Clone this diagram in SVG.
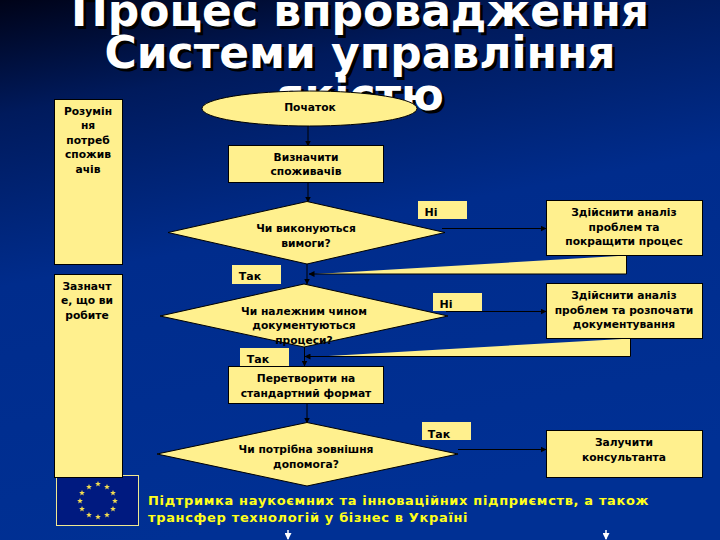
<svg xmlns="http://www.w3.org/2000/svg" width="720" height="540" viewBox="0 0 720 540">
<defs>
<linearGradient id="bg" x1="0" y1="0" x2="0.25" y2="1">
<stop offset="0" stop-color="#000318"/>
<stop offset="0.2" stop-color="#001a5c"/>
<stop offset="0.5" stop-color="#002c8c"/>
<stop offset="1" stop-color="#003094"/>
</linearGradient>
<marker id="a" markerWidth="6" markerHeight="6" refX="5.500" refY="3" orient="auto" markerUnits="userSpaceOnUse"><path d="M0,0 L6,3 L0,6 Z" fill="#000"/></marker>
<marker id="w" markerWidth="7" markerHeight="7" refX="6" refY="3.500" orient="auto" markerUnits="userSpaceOnUse"><path d="M0,0 L7,3.500 L0,7 Z" fill="#fff"/></marker>
<path id="star" d="M0,-3 L0.8,-0.9 L2.9,-0.9 L1.2,0.4 L1.8,2.5 L0,1.2 L-1.8,2.5 L-1.2,0.4 L-2.9,-0.9 L-0.8,-0.9 Z" fill="#f2dc50"/>
</defs>
<style>
text{font-family:"DejaVu Sans",sans-serif;font-weight:bold;text-anchor:middle}
.s{fill:#fff08e;stroke:#000;stroke-width:1}
.l{fill:#fff08e}
.t{font-size:10.7px;fill:#000}
.n{font-size:11px;fill:#000}
.y{font-size:13px;fill:#ffff1a;text-anchor:start;letter-spacing:.65px}
.h{font-size:44px;fill:#fff}
.hs{font-size:44px;fill:#000}
.c{stroke:#000;stroke-width:1;fill:none;marker-end:url(#a)}
.e{stroke:#000;stroke-width:1;fill:none}
</style>
<rect width="720" height="540" fill="url(#bg)"/>
<g id="title">
<text class="hs" x="363" y="29">Процес впровадження</text>
<text class="hs" x="363" y="71">Системи управління</text>
<text class="hs" x="363" y="113">якістю</text>
<text class="h" x="360" y="26">Процес впровадження</text>
<text class="h" x="360" y="68">Системи управління</text>
<text class="h" x="360" y="110">якістю</text>
</g>
<g id="feedback1"><path class="l" d="M316,274 L626.500,255.500 L626.500,274 Z"/><path class="e" d="M626.500,255.500 L626.500,274"/></g>
<g id="feedback2"><path class="l" d="M320,356.500 L630.500,338.500 L630.500,356.500 Z"/><path class="e" d="M630.500,338.500 L630.500,356.500"/></g>
<g id="connectors">
<path class="c" d="M308,126 L308,146"/>
<path class="c" d="M308,183 L308,202"/>
<path class="c" d="M442,228.500 L546,228.500"/>
<path class="c" d="M307,264 L307,284"/>
<path class="c" d="M626.500,274 L309,274"/>
<path class="c" d="M446,311.500 L546,311.500"/>
<path class="c" d="M304.500,347 L304.500,366"/>
<path class="c" d="M630.500,356.500 L305,356.500"/>
<path class="c" d="M307,403 L307,423"/>
<path class="c" d="M458,449.500 L546,449.500"/>
</g>
<g id="eu"><rect x="56.500" y="475.500" width="82" height="50" fill="#001a80" stroke="#f0e890"/>
<use href="#star" x="98" y="484"/><use href="#star" x="107" y="487"/><use href="#star" x="113" y="493"/><use href="#star" x="115" y="501"/><use href="#star" x="113" y="509"/><use href="#star" x="107" y="515"/><use href="#star" x="98" y="517"/><use href="#star" x="89" y="515"/><use href="#star" x="82" y="509"/><use href="#star" x="80" y="501"/><use href="#star" x="82" y="493"/><use href="#star" x="89" y="487"/></g>
<g id="side1"><rect class="s" x="54.500" y="99.500" width="68" height="165"/><text class="t" x="88" y="115">Розумін</text><text class="t" x="88" y="129">ня</text><text class="t" x="88" y="144">потреб</text><text class="t" x="88" y="158">спожив</text><text class="t" x="88" y="173">ачів</text></g>
<g id="side2"><rect class="s" x="54.500" y="274.500" width="68" height="203"/><text class="t" x="87" y="290">Зазначт</text><text class="t" x="87" y="304">е, що ви</text><text class="t" x="87" y="319">робите</text></g>
<g id="start"><ellipse class="s" cx="309.500" cy="108.500" rx="107.500" ry="17.500"/><text class="t" x="310" y="111">Початок</text></g>
<g id="customers"><rect class="s" x="228.500" y="145.500" width="155" height="37"/><text class="t" x="306" y="161">Визначити</text><text class="t" x="306" y="175">споживачів</text></g>
<g id="no1"><rect class="l" x="418" y="201" width="49" height="18"/><text class="n" x="431" y="216">Ні</text></g>
<g id="d1"><path class="s" d="M307,201.500 L445,232.500 L307,264 L168,232.500 Z"/><text class="t" x="306" y="232">Чи виконуються</text><text class="t" x="306" y="247">вимоги?</text></g>
<g id="a1"><rect class="s" x="546.500" y="200.500" width="156" height="55"/><text class="t" x="624" y="216">Здійснити аналіз</text><text class="t" x="624" y="231">проблем та</text><text class="t" x="624" y="245">покращити процес</text></g>
<g id="yes1"><rect class="l" x="232" y="265" width="49" height="19"/><text class="n" x="250" y="280">Так</text></g>
<g id="d2"><path class="s" d="M304,284 L448,316 L304,347 L160,316 Z"/><text class="t" x="304" y="315">Чи належним чином</text><text class="t" x="304" y="329">документуються</text><text class="t" x="304" y="344">процеси?</text></g>
<g id="no2"><rect class="l" x="433" y="293" width="49" height="18"/><text class="n" x="446" y="308">Ні</text></g>
<g id="a2"><rect class="s" x="546.500" y="283.500" width="156" height="55"/><text class="t" x="624" y="299">Здійснити аналіз</text><text class="t" x="624" y="314">проблем та розпочати</text><text class="t" x="624" y="328">документування</text></g>
<g id="yes2"><rect class="l" x="240" y="348" width="49" height="19"/><text class="n" x="258" y="363">Так</text></g>
<g id="standard"><rect class="s" x="228.500" y="366.500" width="155" height="37"/><text class="t" x="306" y="382">Перетворити на</text><text class="t" x="306" y="397">стандартний формат</text></g>
<g id="yes3"><rect class="l" x="422" y="422" width="49" height="18"/><text class="n" x="439" y="438">Так</text></g>
<g id="d3"><path class="s" d="M307,422.500 L458,454 L307,486 L157,454 Z"/><text class="t" x="306" y="453">Чи потрібна зовнішня</text><text class="t" x="306" y="468">допомога?</text></g>
<g id="a3"><rect class="s" x="546.500" y="430.500" width="156" height="47"/><text class="t" x="624" y="446">Залучити</text><text class="t" x="624" y="461">консультанта</text></g>
<g id="support"><text class="y" x="148" y="505">Підтримка наукоємних та інноваційних підприємств, а також</text><text class="y" x="148" y="522">трансфер технологій у бізнес в Україні</text></g>
<g id="bottom-arrows"><path d="M288,530 L288,539" stroke="#fff" stroke-width="1.500" marker-end="url(#w)"/><path d="M606,530 L606,539" stroke="#fff" stroke-width="1.500" marker-end="url(#w)"/></g>
</svg>
